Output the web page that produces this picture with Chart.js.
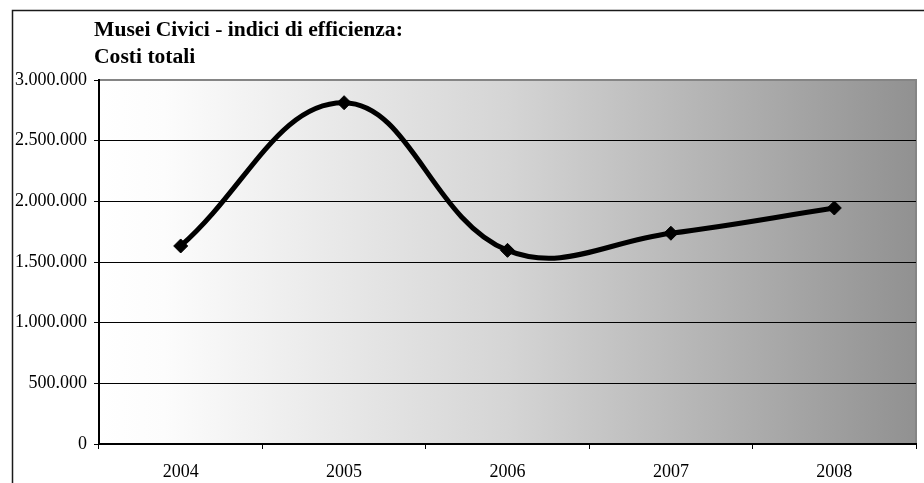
<!DOCTYPE html>
<html>
<head>
<meta charset="utf-8">
<script src="https://cdn.jsdelivr.net/npm/chart.js@4"></script>
<style>
  html, body { margin: 0; padding: 0; background: #ffffff; }
  #wrap { position: relative; width: 924px; height: 483px; }
  canvas { display: block; }
</style>
</head>
<body>
<div id="wrap"><canvas id="c" width="924" height="483"></canvas></div>
<script>
const titleLines = ['Musei Civici - indici di efficienza:', 'Costi totali'];
const categories = ['2004', '2005', '2006', '2007', '2008'];
const costiTotali = [1632000, 2813000, 1596000, 1737000, 1945000];
const yMin = 0;
const yMax = 3000000;
const yStep = 500000;

const SERIF = "'Liberation Serif', 'Times New Roman', serif";

function fmt(v) {
  return String(Math.round(v)).replace(/\B(?=(\d{3})+(?!\d))/g, '.');
}

const framePlugin = {
  id: 'frame',
  beforeDraw(chart) {
    const { ctx, chartArea: a } = chart;
    ctx.save();
    // outer border (left and top only visible)
    ctx.strokeStyle = '#1a1a1a';
    ctx.lineWidth = 1.5;
    ctx.beginPath();
    ctx.moveTo(12.5, chart.height + 5);
    ctx.lineTo(12.5, 10.5);
    ctx.lineTo(chart.width + 5, 10.5);
    ctx.stroke();
    // plot background gradient
    const g = ctx.createLinearGradient(a.left, 0, a.right, 0);
    g.addColorStop(0, '#ffffff');
    g.addColorStop(0.08, '#fcfcfc');
    g.addColorStop(0.5, '#d5d5d5');
    g.addColorStop(1, '#919191');
    ctx.fillStyle = g;
    ctx.fillRect(a.left, a.top, a.right - a.left, a.bottom - a.top);
    // plot border (gray)
    ctx.strokeStyle = '#858585';
    ctx.lineWidth = 2;
    ctx.strokeRect(a.left, a.top, a.right - a.left, a.bottom - a.top);
    // title
    ctx.fillStyle = '#000000';
    ctx.font = "bold 21.6px " + SERIF;
    ctx.textAlign = 'left';
    ctx.textBaseline = 'alphabetic';
    ctx.fillText(titleLines[0], 94, 36);
    ctx.fillText(titleLines[1], 94, 63);
    ctx.restore();
  }
};

new Chart(document.getElementById('c'), {
  type: 'line',
  data: {
    labels: categories,
    datasets: [{
      label: 'Costi totali',
      data: costiTotali,
      borderColor: '#000000',
      borderWidth: 5,
      tension: 0.4,
      fill: false,
      pointStyle: 'rectRot',
      pointRadius: 7,
      pointHoverRadius: 7,
      pointBackgroundColor: '#000000',
      pointBorderColor: '#000000',
      pointBorderWidth: 1
    }]
  },
  options: {
    responsive: false,
    animation: false,
    events: [],
    layout: { padding: { left: 0, top: 80, right: 6, bottom: 0 } },
    plugins: {
      legend: { display: false },
      title: { display: false },
      tooltip: { enabled: false }
    },
    scales: {
      x: {
        type: 'category',
        offset: true,
        afterFit(s) { s.height = 39; },
        grid: {
          offset: true,
          drawOnChartArea: false,
          drawTicks: true,
          tickLength: 5,
          tickColor: '#000000',
          tickWidth: 1
        },
        border: { display: true, color: '#000000', width: 2 },
        ticks: {
          color: '#000000',
          font: { family: SERIF, size: 18 },
          padding: 12,
          maxRotation: 0
        }
      },
      y: {
        min: yMin,
        max: yMax,
        afterFit(s) { s.width = 99; },
        grid: {
          color: (c) => (c.tick && c.tick.value === yMax) ? 'rgba(0,0,0,0)' : '#000000',
          lineWidth: 1,
          tickLength: 5,
          tickColor: '#000000',
          tickWidth: 1
        },
        border: { display: true, color: '#000000', width: 2 },
        ticks: {
          stepSize: yStep,
          color: '#000000',
          font: { family: SERIF, size: 18 },
          padding: 7,
          callback: (v) => fmt(v)
        }
      }
    }
  },
  plugins: [framePlugin]
});
</script>
</body>
</html>
